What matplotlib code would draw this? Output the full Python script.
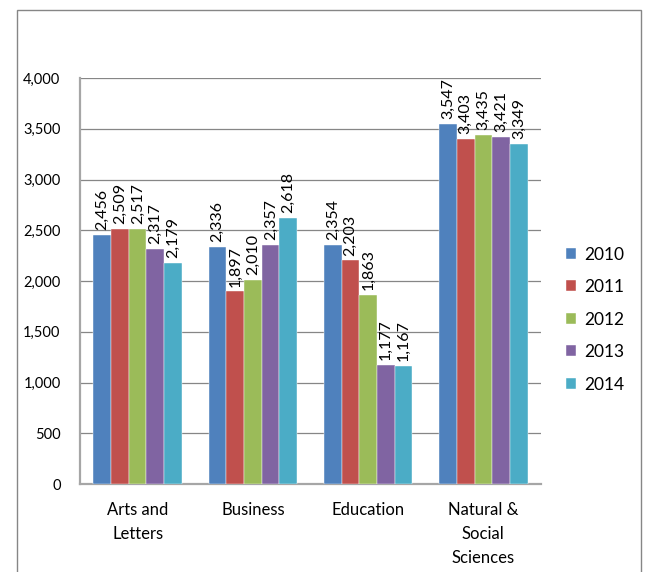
import matplotlib
matplotlib.use("Agg")
import matplotlib.pyplot as plt
from matplotlib.patches import Rectangle
import numpy as np

categories = ["Arts and\nLetters", "Business", "Education", "Natural &\nSocial\nSciences"]
years = ["2010", "2011", "2012", "2013", "2014"]
values = {
    "2010": [2456, 2336, 2354, 3547],
    "2011": [2509, 1897, 2203, 3403],
    "2012": [2517, 2010, 1863, 3435],
    "2013": [2317, 2357, 1177, 3421],
    "2014": [2179, 2618, 1167, 3349],
}
colors = ["#4F81BD", "#C0504D", "#9BBB59", "#8064A2", "#4BACC6"]
yticks = [0, 500, 1000, 1500, 2000, 2500, 3000, 3500, 4000]

plt.rcParams['font.family'] = ['Lato', 'DejaVu Sans']

W, H = 649, 572
fig = plt.figure(figsize=(W / 100, H / 100), dpi=100)
fig.patch.set_facecolor("white")

# outer chart border
fig.patches.append(Rectangle((17 / W, -0.05), (641 - 17) / W, 1.05 - 10 / H,
                             transform=fig.transFigure, fill=False,
                             edgecolor="#868686", linewidth=1.0))

ax = fig.add_axes([80 / W, 1 - 484 / H, (541 - 80) / W, (484 - 78) / H])
x = np.arange(len(categories))
bw = 0.154
for i, yr in enumerate(years):
    xs = x + (i - 2) * bw
    ax.bar(xs, values[yr], width=bw, color=colors[i], label=yr, zorder=3,
           edgecolor="white", linewidth=0.3)
    for xi, v in zip(xs, values[yr]):
        ax.annotate(f"{v:,}", (xi, v), xytext=(0, 3.5), textcoords="offset points",
                    rotation=90, ha="center", va="bottom", fontsize=11.5, color="#000000")

ax.set_xlim(-0.5, len(categories) - 0.5)
ax.set_ylim(0, 4000)
ax.set_yticks(yticks)
ax.set_yticklabels([f"{t:,}" for t in yticks], fontsize=10.5)
ax.yaxis.grid(True, color="#868686", linewidth=0.9, zorder=0)
ax.set_axisbelow(True)
ax.set_xticks(x)
ax.set_xticklabels(categories, fontsize=12, linespacing=1.6, va="top")
ax.tick_params(axis="x", length=0, pad=13)
ax.tick_params(axis="y", length=0, pad=14)
for s in ["top", "right"]:
    ax.spines[s].set_visible(False)
for s in ["left", "bottom"]:
    ax.spines[s].set_color("#a6a6a6")
    ax.spines[s].set_linewidth(1.6)

leg = ax.legend(loc="center left", bbox_to_anchor=(1.02, 0.405), frameon=False,
                fontsize=12.5, handlelength=0.6, handleheight=0.6,
                handletextpad=0.45, labelspacing=0.95)

fig.savefig("out.png", dpi=100)
